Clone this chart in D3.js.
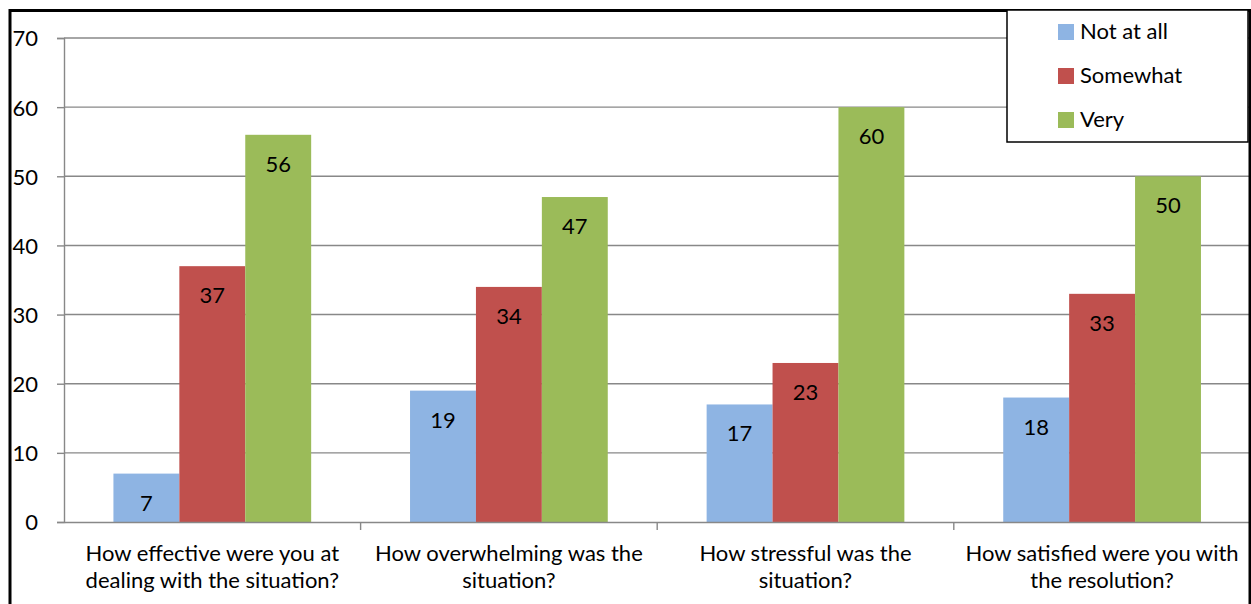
<!DOCTYPE html>
<html>
<head>
<meta charset="utf-8">
<script src="https://cdn.jsdelivr.net/npm/d3@7/dist/d3.min.js"></script>
<style>
  html, body { margin: 0; padding: 0; background: #fff; }
  svg { display: block; }
  text { font-family: Lato, "Open Sans", sans-serif; fill: #000; }
</style>
</head>
<body>
<svg id="chart" width="1251" height="604"></svg>
<script>
// Survey responses per question
const categories = [
  "How effective were you at\ndealing with the situation?",
  "How overwhelming was the\nsituation?",
  "How stressful was the\nsituation?",
  "How satisfied were you with\nthe resolution?"
];
const seriesNames = ["Not at all", "Somewhat", "Very"];
const notAtAll = [7, 19, 17, 18];
const somewhat = [37, 34, 23, 33];
const very = [56, 47, 60, 50];
const yTicks = [0, 10, 20, 30, 40, 50, 60, 70];

const seriesValues = [notAtAll, somewhat, very];
const colors = ["#8EB4E3", "#C0504D", "#9BBB59"];

const svg = d3.select("#chart");
const fontSize = 22;

const plot = { left: 64, right: 1250.4, top: 38, bottom: 522 };

const x = d3.scaleBand().domain(categories).range([plot.left, plot.right]).paddingInner(0).paddingOuter(0);
const xs = d3.scaleBand().domain(seriesNames).range([0, x.bandwidth()]).paddingInner(0).paddingOuter(0.75);
const y = d3.scaleLinear().domain([0, 70]).range([plot.bottom, plot.top]);

// horizontal gridlines
svg.append("g")
  .selectAll("line")
  .data(yTicks.filter(d => d > 0))
  .join("line")
  .attr("x1", plot.left).attr("x2", plot.right)
  .attr("y1", d => y(d)).attr("y2", d => y(d))
  .attr("stroke", "#888").attr("stroke-width", 1.4);

// bars
const groups = svg.append("g")
  .selectAll("g")
  .data(seriesNames.map((name, i) => ({ name, i })))
  .join("g")
  .attr("fill", d => colors[d.i]);

groups.selectAll("rect")
  .data(d => categories.map((c, j) => ({ c, v: seriesValues[d.i][j], s: d.name })))
  .join("rect")
  .attr("x", d => x(d.c) + xs(d.s))
  .attr("width", xs.bandwidth())
  .attr("y", d => y(d.v))
  .attr("height", d => y(0) - y(d.v));

// value labels inside bar tops
groups.selectAll("text")
  .data(d => categories.map((c, j) => ({ c, v: seriesValues[d.i][j], s: d.name })))
  .join("text")
  .attr("x", d => x(d.c) + xs(d.s) + xs.bandwidth() / 2)
  .attr("y", d => y(d.v) + 37)
  .attr("text-anchor", "middle")
  .attr("font-size", fontSize)
  .text(d => d.v);

// y axis
const yAxis = d3.axisLeft(y).tickValues(yTicks).tickSize(7).tickPadding(19).tickFormat(d3.format("d"));
const yg = svg.append("g").attr("transform", `translate(${plot.left},0)`).call(yAxis);
yg.select(".domain").attr("stroke", "#888").attr("stroke-width", 1.4);
yg.selectAll(".tick line").attr("stroke", "#888").attr("stroke-width", 1.4);
yg.selectAll(".tick text").attr("font-size", fontSize).attr("font-family", "Lato, sans-serif").attr("fill", "#000").attr("dy", "0.36em");

// x axis
const xAxis = d3.axisBottom(x).tickSize(0).tickFormat("");
const xg = svg.append("g").attr("transform", `translate(0,${plot.bottom})`).call(xAxis);
xg.select(".domain").attr("stroke", "#888").attr("stroke-width", 1.4);
xg.selectAll(".tick").remove();

// category boundary ticks
const bounds = categories.map(c => x(c)).concat([plot.right]).slice(1, categories.length);
svg.append("g").selectAll("line").data(bounds).join("line")
  .attr("x1", d => d).attr("x2", d => d)
  .attr("y1", plot.bottom).attr("y2", plot.bottom + 8)
  .attr("stroke", "#888").attr("stroke-width", 1.4);

// category labels, two lines each
const labels = svg.append("g").selectAll("text").data(categories).join("text")
  .attr("text-anchor", "middle")
  .attr("font-size", fontSize)
  .attr("x", d => x(d) + x.bandwidth() / 2)
  .attr("y", 561);
labels.selectAll("tspan").data(d => d.split("\n")).join("tspan")
  .attr("x", function () { return d3.select(this.parentNode).attr("x"); })
  .attr("dy", (d, i) => i === 0 ? 0 : 27)
  .text(d => d);

// outer frame
svg.append("rect")
  .attr("x", 10).attr("y", 10.5).attr("width", 1240).attr("height", 620)
  .attr("fill", "none").attr("stroke", "#000").attr("stroke-width", 3);

// legend
const legend = svg.append("g");
legend.append("rect")
  .attr("x", 1007).attr("y", 10).attr("width", 241).attr("height", 132)
  .attr("fill", "#fff").attr("stroke", "#000").attr("stroke-width", 1.5);
const items = legend.selectAll("g.item").data(seriesNames).join("g").attr("class", "item")
  .attr("transform", (d, i) => `translate(1058,${24 + i * 44})`);
items.append("rect").attr("width", 16).attr("height", 16).attr("fill", (d, i) => colors[i]);
items.append("text").attr("x", 22).attr("y", 15).attr("font-size", fontSize).text(d => d);
</script>
</body>
</html>
